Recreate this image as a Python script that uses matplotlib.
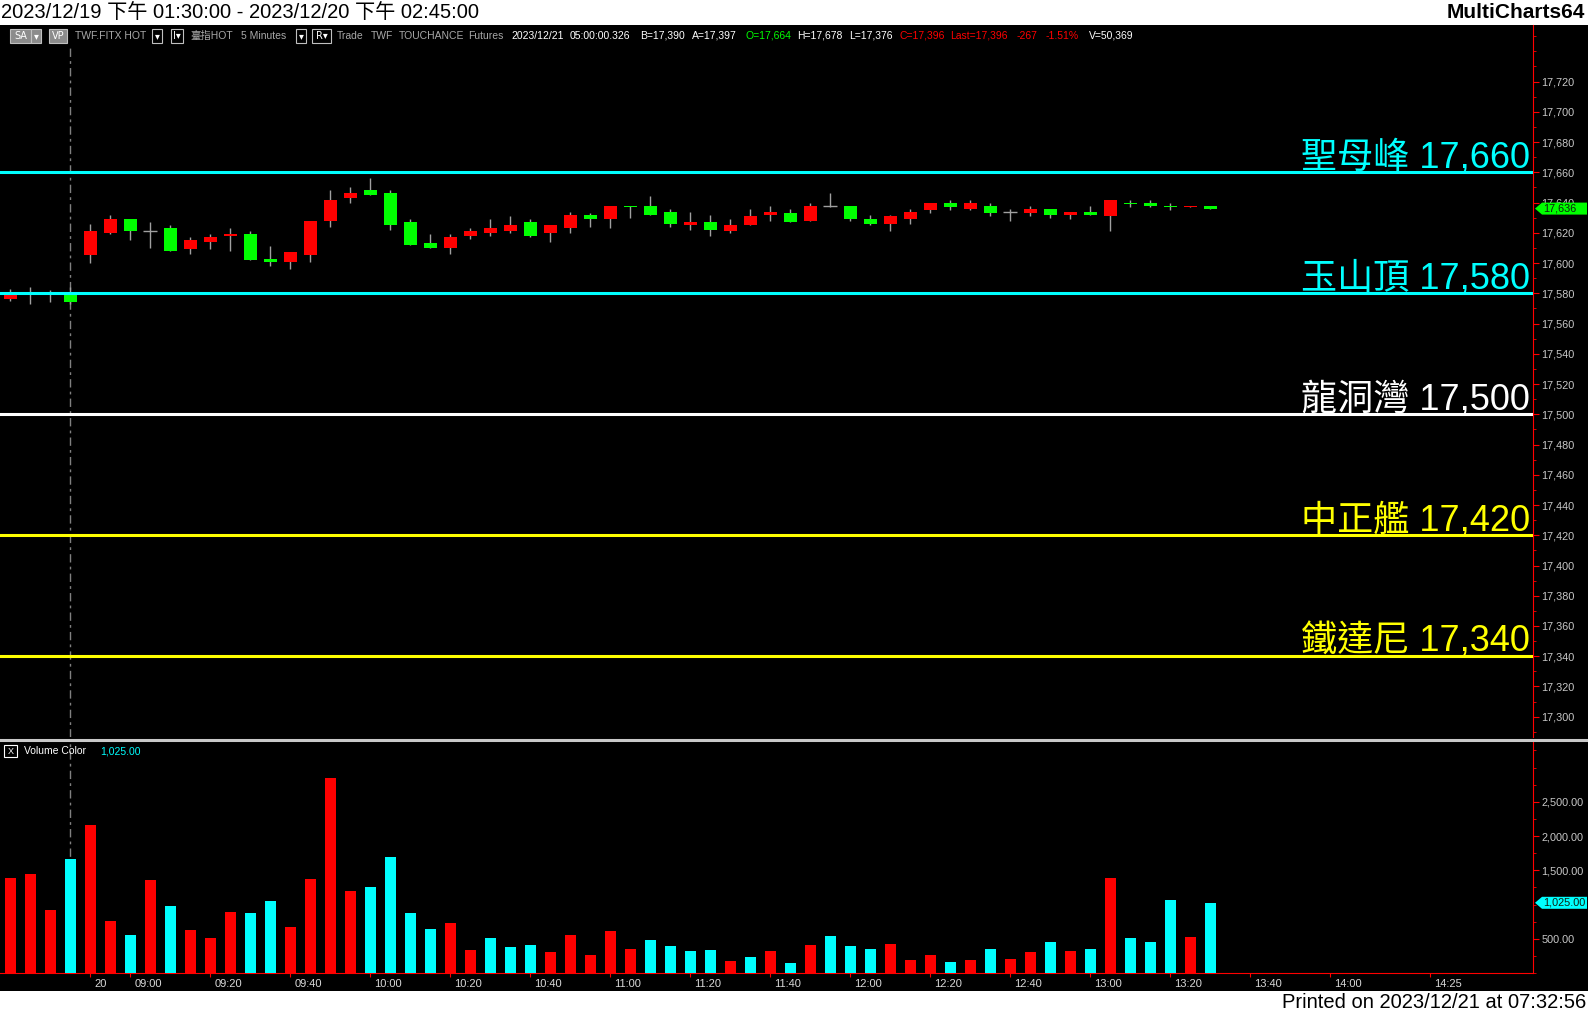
import matplotlib
matplotlib.use('Agg')
import matplotlib.pyplot as plt
import matplotlib.transforms as mtransforms
from matplotlib.patches import Rectangle, Polygon
from matplotlib.lines import Line2D
from matplotlib.ticker import FixedLocator, MultipleLocator, FuncFormatter

plt.rcParams['font.family'] = ['Liberation Sans', 'Noto Sans CJK TC', 'DejaVu Sans']

# 5 minute bars, 12/19 tail + 12/20 day session
opens = [17576, 17580, 17580, 17580, 17605, 17620, 17629, 17621, 17623, 17609,
         17614, 17618, 17619, 17603, 17601, 17605, 17628, 17643, 17648, 17646,
         17627, 17613, 17610, 17618, 17620, 17621, 17627, 17620, 17623, 17632,
         17629, 17638, 17638, 17634, 17625, 17627, 17621, 17625, 17632, 17633,
         17628, 17638, 17638, 17629, 17626, 17629, 17635, 17640, 17636, 17638,
         17634, 17633, 17636, 17632, 17634, 17631, 17640, 17640, 17638, 17637,
         17638]
highs = [17583, 17584, 17582, 17584, 17626, 17632, 17629, 17627, 17625, 17617,
         17619, 17623, 17621, 17611, 17607, 17628, 17648, 17650, 17656, 17648,
         17629, 17619, 17619, 17623, 17629, 17631, 17629, 17625, 17634, 17633,
         17638, 17638, 17644, 17636, 17634, 17632, 17629, 17636, 17638, 17636,
         17640, 17646, 17638, 17632, 17632, 17636, 17640, 17642, 17642, 17640,
         17636, 17638, 17636, 17634, 17638, 17642, 17642, 17642, 17640, 17638,
         17638]
lows = [17575, 17573, 17574, 17573, 17600, 17619, 17615, 17610, 17608, 17606,
        17609, 17608, 17602, 17598, 17596, 17601, 17624, 17640, 17645, 17622,
        17612, 17610, 17606, 17616, 17618, 17620, 17617, 17614, 17620, 17624,
        17623, 17630, 17632, 17624, 17622, 17618, 17620, 17625, 17628, 17627,
        17628, 17637, 17628, 17625, 17621, 17626, 17633, 17635, 17635, 17631,
        17628, 17631, 17630, 17629, 17632, 17621, 17637, 17637, 17635, 17637,
        17636]
closes = [17581, 17580, 17580, 17574, 17621, 17629, 17621, 17621, 17608, 17615,
          17617, 17619, 17602, 17601, 17607, 17628, 17642, 17646, 17645, 17625,
          17612, 17610, 17617, 17621, 17623, 17625, 17618, 17625, 17632, 17629,
          17638, 17637, 17632, 17626, 17627, 17622, 17625, 17631, 17634, 17627,
          17638, 17638, 17629, 17626, 17631, 17634, 17640, 17637, 17640, 17633,
          17634, 17636, 17632, 17634, 17632, 17642, 17639, 17638, 17637, 17638,
          17636]
volumes = [1387, 1445, 926, 1661, 2165, 754, 552, 1358, 984, 624,
           509, 898, 883, 1056, 667, 1373, 2842, 1200, 1258, 1690,
           869, 638, 725, 336, 509, 379, 408, 307, 552, 264,
           610, 350, 480, 394, 322, 336, 178, 235, 322, 149,
           408, 538, 394, 350, 422, 192, 264, 163, 192, 350,
           206, 307, 451, 322, 350, 1387, 509, 451, 1070, 523,
           1025]
# R = red volume bar, C = cyan volume bar
vol_side = list("RRRCRRCRCR" "RRCCRRRRCC" "CCRRCCCRRR" "RRCCCCRCRC"
                "RCCCRRRCRC" "RRCRCRCCCRC")

tick_pos = [4, 6, 10, 14, 18, 22, 26, 30, 34, 38, 42, 46, 50, 54, 58, 62, 66, 71]
tick_labels = ['20', '09:00', '09:20', '09:40', '10:00', '10:20', '10:40', '11:00',
               '11:20', '11:40', '12:00', '12:20', '12:40', '13:00', '13:20',
               '13:40', '14:00', '14:25']
session_start = 3

levels = [17660, 17580, 17500, 17420, 17340]
level_names = ['聖母峰', '玉山頂', '龍洞灣', '中正艦', '鐵達尼']
level_colors = ['#00ffff', '#00ffff', '#ffffff', '#ffff00', '#ffff00']

W, H = 1588, 1014
RED, GREEN, CYAN = '#ff0000', '#00ff00', '#00ffff'

def fx(px):
    return px / W

def fy(py):
    return 1 - py / H

fig = plt.figure(figsize=(W / 100, H / 100), dpi=100, facecolor='white')
fig.patches.append(Rectangle((0, fy(991)), 1, fy(25) - fy(991), transform=fig.transFigure,
                             fc='black', ec='none', zorder=-5))

ax_p = fig.add_axes([0, fy(737), fx(1533), fy(25) - fy(737)])
ax_v = fig.add_axes([0, fy(973), fx(1533), fy(742) - fy(973)])


def value_tag(ax, val, label, fc, half_px):
    # arrow shaped marker in the right margin, pointing at the axis
    ax.figure.canvas.draw_idle()
    tr = mtransforms.blended_transform_factory(fig.transFigure, ax.transData)
    y0, y1 = ax.get_ylim()
    hh = half_px * (y1 - y0) / (ax.get_position().height * H)
    pts = [(fx(1535), val), (fx(1542), val + hh), (fx(1587), val + hh),
           (fx(1587), val - hh), (fx(1542), val - hh)]
    ax.add_patch(Polygon(pts, closed=True, transform=tr, fc=fc, ec='none',
                         clip_on=False, zorder=9))
    ax.text(fx(1543), val, label, transform=tr, ha='left', va='center', fontsize=7.8,
            color='#102010', clip_on=False, zorder=10)


# ---- price panel
x = list(range(len(opens)))
ax_p.vlines(x, lows, highs, color='#a0a0a0', lw=1, zorder=3)
for i in x:
    o, c = opens[i], closes[i]
    if c == o:
        ax_p.hlines(o, i - 0.35, i + 0.35, color='#a0a0a0', lw=1, zorder=4)
    else:
        col = RED if c > o else GREEN
        ax_p.bar(i, abs(c - o), bottom=min(o, c), width=0.65, color=col, lw=0, zorder=4)

blend_p = mtransforms.blended_transform_factory(ax_p.transAxes, ax_p.transData)
for lv, name, col in zip(levels, level_names, level_colors):
    ax_p.axhline(lv, color=col, lw=2.2, zorder=5)
    ax_p.text(0.998, lv + 3.3, f'{name} {lv:,}', transform=blend_p, ha='right', va='baseline',
              color=col, fontsize=26, zorder=6)

ax_p.axvline(session_start, ymax=0.97, color='#808080', lw=1, ls=(0, (6, 3, 2, 3)), zorder=1)

ax_p.set_xlim(-0.5, 76.15)
ax_p.set_ylim(17286.6, 17757.4)
ax_p.set_facecolor('none')
for s in ['top', 'left', 'bottom']:
    ax_p.spines[s].set_visible(False)
ax_p.spines['right'].set_color(RED)
ax_p.set_xticks([])
ax_p.yaxis.tick_right()
ax_p.yaxis.set_major_locator(FixedLocator(list(range(17300, 17721, 20))))
ax_p.yaxis.set_minor_locator(MultipleLocator(10))
ax_p.yaxis.set_major_formatter(FuncFormatter(lambda v, p: f'{v:,.0f}'))
ax_p.tick_params(axis='y', which='major', colors=RED, labelcolor='#c8c8c8', labelsize=7.8,
                 length=4, pad=2)
ax_p.tick_params(axis='y', which='minor', colors=RED, length=2)

last = closes[-1]
value_tag(ax_p, last, f'{last:,}', GREEN, 6)

# ---- volume panel
vcols = [RED if s == 'R' else CYAN for s in vol_side]
ax_v.axvline(session_start, color='#808080', lw=1, ls=(0, (6, 3, 2, 3)), zorder=1)
ax_v.bar(x, volumes, width=0.55, color=vcols, lw=0, zorder=3)
ax_v.set_xlim(-0.5, 76.15)
ax_v.set_ylim(0, 3373)
ax_v.set_facecolor('none')
ax_v.spines['top'].set_visible(False)
ax_v.spines['left'].set_visible(False)
ax_v.spines['right'].set_color(RED)
ax_v.spines['bottom'].set_color(RED)
ax_v.yaxis.tick_right()
ax_v.yaxis.set_major_locator(FixedLocator([500, 1500, 2000, 2500]))
ax_v.yaxis.set_minor_locator(MultipleLocator(250))
ax_v.yaxis.set_major_formatter(FuncFormatter(lambda v, p: f'{v:,.2f}'))
ax_v.tick_params(axis='y', which='major', colors=RED, labelcolor='#c8c8c8', labelsize=7.8,
                 length=4, pad=2)
ax_v.tick_params(axis='y', which='minor', colors=RED, length=2)
ax_v.set_xticks(tick_pos)
ax_v.set_xticklabels(tick_labels, ha='left')
ax_v.tick_params(axis='x', colors=RED, labelcolor='#d8d8d8', labelsize=8, length=3, pad=1.5)
shift = mtransforms.ScaledTranslation(3 / 72, 0, fig.dpi_scale_trans)
for lab in ax_v.get_xticklabels():
    lab.set_transform(lab.get_transform() + shift)

lastv = volumes[-1]
value_tag(ax_v, lastv, f'{lastv:,.2f}', CYAN, 6)

# ---- frame pieces
fig.add_artist(Line2D([0, 1], [fy(739.5), fy(739.5)], transform=fig.transFigure,
                      color='#c8c8c8', lw=2.2))

# header and footer
fig.text(fx(1), fy(12.5), '2023/12/19 下午 01:30:00 - 2023/12/20 下午 02:45:00',
         ha='left', va='center', fontsize=14.5, color='black')
fig.text(fx(1585), fy(12.5), 'MultiCharts64', ha='right', va='center', fontsize=15,
         fontweight='bold', color='black')
fig.text(fx(1586), fy(1002), 'Printed on 2023/12/21 at 07:32:56', ha='right', va='center',
         fontsize=14.5, color='black')

# toolbar row
def ui_box(x0, x1, label, filled):
    fig.patches.append(Rectangle((fx(x0), fy(43)), fx(x1 - x0), fy(29) - fy(43),
                                 transform=fig.transFigure, fc='#8c8c8c' if filled else 'black',
                                 ec='#c0c0c0', lw=0.8, zorder=2))
    fig.text(fx((x0 + x1) / 2), fy(36), label, ha='center', va='center', fontsize=7,
             color='white', family=['DejaVu Sans'], zorder=3)

ui_box(10, 31, 'SA', True)
ui_box(31, 41, '▾', True)
ui_box(49, 67, 'VP', True)
ui_box(152, 162, '▾', False)
ui_box(171, 183, 'I▾', False)
ui_box(296, 306, '▾', False)
ui_box(312, 331, 'R▾', False)

GRAY, WHITE = '#a8a8a8', '#ffffff'
info = [('TWF.FITX HOT', 75, GRAY), ('臺指HOT', 190, GRAY), ('5 Minutes', 241, GRAY),
        ('Trade', 337, GRAY), ('TWF', 371, GRAY), ('TOUCHANCE', 399, GRAY),
        ('Futures', 468, GRAY), ('2023/12/21', 511, WHITE), ('05:00:00.326', 570, WHITE),
        ('B=17,390', 640, WHITE), ('A=17,397', 692, WHITE), ('O=17,664', 746, GREEN),
        ('H=17,678', 797, WHITE), ('L=17,376', 849, WHITE), ('C=17,396', 900, RED),
        ('Last=17,396', 950, RED), ('-267', 1017, RED), ('-1.51%', 1046, RED),
        ('V=50,369', 1089, WHITE)]
for txt, px, col in info:
    fig.text(fx(px), fy(36), txt, ha='left', va='center', fontsize=7.5, color=col)

# volume study label
fig.patches.append(Rectangle((fx(4), fy(757)), fx(13), fy(745) - fy(757),
                             transform=fig.transFigure, fc='black', ec='white', lw=0.8, zorder=2))
fig.text(fx(10.5), fy(751), 'X', ha='center', va='center', fontsize=6.5, color='white')
fig.text(fx(24), fy(751), 'Volume Color', ha='left', va='center', fontsize=7.5, color='white')
fig.text(fx(100), fy(751), f'{lastv:,.2f}', ha='left', va='center', fontsize=7.5, color=CYAN)

fig.savefig('out.png', dpi=100, facecolor='white')
